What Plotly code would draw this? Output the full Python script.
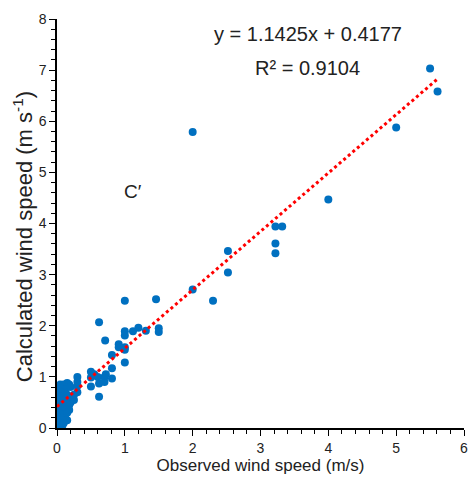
import plotly.graph_objects as go

# Observed (x) vs calculated (y) wind speed
obs = [0.02,0.02,0.02,0.02,0.02,0.02,0.02,
       0.05,0.05,0.05,0.05,0.05,0.05,0.05,
       0.08,0.08,0.08,0.08,0.08,0.08,
       0.10,0.10,0.10,0.10,0.10,
       0.12,0.12,0.12,0.12,
       0.15,0.15,0.15,0.15,0.15,0.15,
       0.18,0.18,0.18,0.18,
       0.20,0.20,0.20,
       0.25,0.25,
       0.30,0.30,0.30,0.30,
       0.50,0.50,0.50,0.55,
       0.60,0.62,0.62,0.62,0.70,0.70,0.72,0.71,
       0.81,0.81,0.81,0.91,0.91,
       1.00,1.00,1.00,1.00,1.00,1.00,
       1.12,1.20,1.31,1.46,1.50,1.50,
       2.00,2.00,2.30,2.52,2.52,
       3.22,3.32,3.22,3.22,4.00,5.00,5.50,5.61]
calc = [0.05,0.15,0.30,0.45,0.60,0.70,0.80,
        0.10,0.25,0.40,0.55,0.65,0.75,0.85,
        0.05,0.20,0.35,0.50,0.62,0.78,
        0.10,0.30,0.45,0.60,0.85,
        0.20,0.40,0.55,0.70,
        0.15,0.30,0.50,0.65,0.80,0.88,
        0.35,0.45,0.55,0.85,
        0.50,0.60,0.80,
        0.55,0.65,
        0.70,0.82,0.90,1.00,
        1.10,0.99,0.81,1.05,
        1.00,0.87,0.61,2.07,1.00,0.90,1.05,1.71,
        1.43,1.17,0.97,1.64,1.58,
        1.89,1.81,1.58,1.53,1.28,2.49,
        1.89,1.96,1.90,2.52,1.95,1.88,
        2.71,5.79,2.49,3.46,3.04,
        3.94,3.94,3.61,3.42,4.47,5.88,7.03,6.58]

slope = 1.1425
intercept = 0.4177
trend_x = [0.0, 5.6]
trend_y = [slope * v + intercept for v in trend_x]

FONT = "Liberation Sans, Arial, sans-serif"
TXT = "#222222"

fig = go.Figure()
fig.add_trace(go.Scatter(x=obs, y=calc, mode="markers",
                         marker=dict(color="#0070C0", size=8, line=dict(width=0)),
                         showlegend=False))
fig.add_trace(go.Scatter(x=trend_x, y=trend_y, mode="lines",
                         line=dict(color="#FF0000", width=3, dash="dot"),
                         showlegend=False))

axis_common = dict(showgrid=False, zeroline=False, showline=True, linecolor="black",
                   linewidth=1.5, ticks="outside", ticklen=6, tickwidth=1.2,
                   tickcolor="black", dtick=1, ticklabeloverflow="allow",
                   tickfont=dict(family=FONT, size=14, color=TXT),
                   minor=dict(dtick=0.2, ticks="outside", ticklen=4,
                              tickcolor="black", tickwidth=1, showgrid=False))

fig.update_xaxes(range=[0, 6], **axis_common,
                 title=dict(text="Observed wind speed (m/s)",
                            font=dict(family=FONT, size=17, color=TXT),
                            standoff=2))
fig.update_yaxes(range=[0, 8], **axis_common)

fig.add_annotation(xref="paper", yref="paper", x=-0.083, y=0.467,
                   xanchor="center", yanchor="middle",
                   textangle=-90, showarrow=False,
                   text="Calculated wind speed (m s<sup>-1</sup>)",
                   font=dict(family=FONT, size=22, color=TXT))
fig.add_annotation(xref="x", yref="y", x=3.7, y=7.71, showarrow=False,
                   text="y = 1.1425x + 0.4177",
                   font=dict(family=FONT, size=20, color=TXT))
fig.add_annotation(xref="x", yref="y", x=3.7, y=7.04, showarrow=False,
                   text="R² = 0.9104",
                   font=dict(family=FONT, size=20, color=TXT))
fig.add_annotation(xref="x", yref="y", x=1.12, y=4.62, showarrow=False,
                   text="C′",
                   font=dict(family=FONT, size=19, color=TXT))

fig.update_layout(width=472, height=479,
                  margin=dict(l=57, r=4, t=19, b=51),
                  plot_bgcolor="white", paper_bgcolor="white")

fig.write_html("out.html")
